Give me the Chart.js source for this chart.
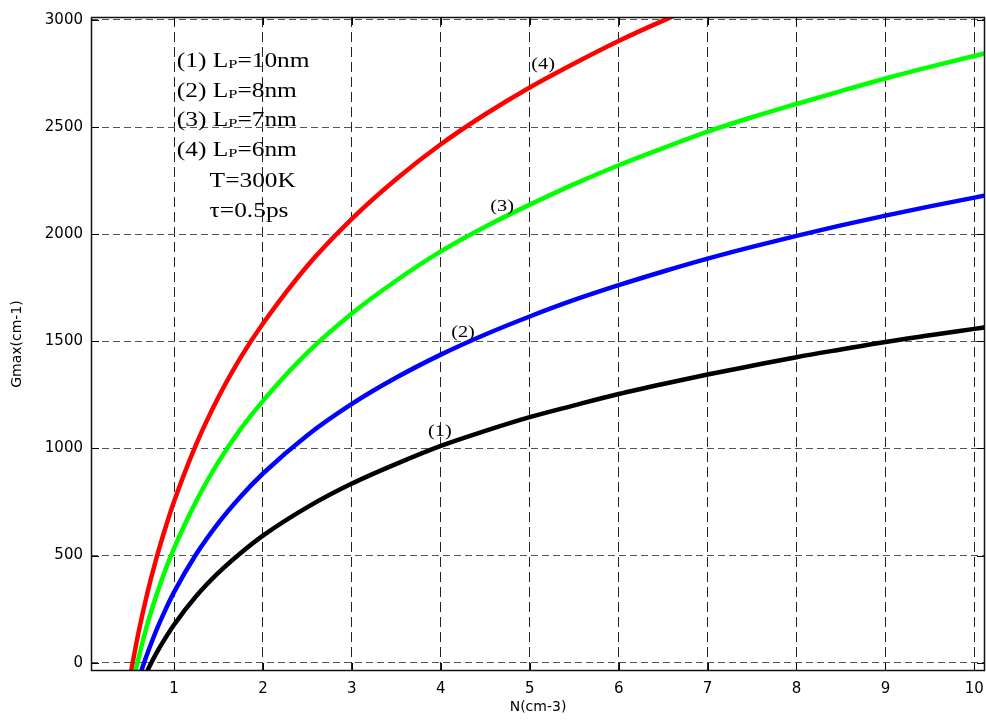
<!DOCTYPE html>
<html>
<head>
<meta charset="utf-8">
<script src="https://cdn.jsdelivr.net/npm/chart.js@4.4.0/dist/chart.umd.min.js"></script>
<style>
  html, body { margin: 0; padding: 0; background: #fff; }
  canvas { display: block; }
</style>
</head>
<body>
<canvas id="gainChart" width="986" height="720"></canvas>
<script>
// N (x) and Gmax (y), one pair per curve
const nLp10 = [0.70, 0.745, 0.8, 0.9, 1.0, 1.25, 1.5, 1.75, 2.0, 2.5, 3.0, 3.5, 4.0, 4.5, 5.0, 5.5, 6.0, 6.5, 7.0, 7.5, 8.0, 8.5, 9.0, 9.5, 10.0, 10.2];
const gLp10 = [-37, 0, 43, 113, 177, 311, 420, 512, 593, 726, 836, 928, 1012, 1082, 1146, 1201, 1254, 1301, 1345, 1386, 1426, 1462, 1497, 1528, 1558, 1570];

const nLp8 = [0.63, 0.663, 0.7, 0.8, 0.9, 1.0, 1.25, 1.5, 1.75, 2.0, 2.5, 3.0, 3.5, 4.0, 4.5, 5.0, 5.5, 6.0, 6.5, 7.0, 7.5, 8.0, 8.5, 9.0, 9.5, 10.0, 10.2];
const gLp8 = [-41, 0, 43, 150, 244, 329, 507, 653, 776, 883, 1062, 1208, 1331, 1438, 1532, 1616, 1693, 1762, 1826, 1886, 1941, 1992, 2041, 2087, 2130, 2171, 2187];

const nLp7 = [0.56, 0.588, 0.7, 0.8, 0.9, 1.0, 1.25, 1.5, 1.75, 2.0, 2.5, 3.0, 3.5, 4.0, 4.5, 5.0, 5.5, 6.0, 6.5, 7.0, 7.5, 8.0, 8.5, 9.0, 9.5, 10.0, 10.2];
const gLp7 = [-49, 0, 180, 312, 430, 533, 754, 937, 1091, 1222, 1447, 1630, 1784, 1920, 2035, 2138, 2234, 2322, 2402, 2479, 2546, 2608, 2668, 2727, 2781, 2832, 2852];

const nLp6 = [0.50, 0.535, 0.6, 0.7, 0.8, 0.9, 1.0, 1.25, 1.5, 1.75, 2.0, 2.5, 3.0, 3.5, 4.0, 4.5, 5.0, 5.5, 6.0, 6.5, 7.0];
const gLp6 = [-81, 0, 140, 325, 485, 625, 752, 1020, 1240, 1425, 1583, 1853, 2072, 2258, 2420, 2560, 2685, 2797, 2902, 2997, 3086];

const xTicks = [1, 2, 3, 4, 5, 6, 7, 8, 9, 10];
const yTicks = [0, 500, 1000, 1500, 2000, 2500, 3000];

const curveTags = ['(1)', '(2)', '(3)', '(4)'];
const lpValues = ['10nm', '8nm', '7nm', '6nm'];
const extraNotes = ['T=300K', 'τ=0.5ps'];

const toPoints = (xs, ys) => xs.map((x, i) => ({ x: x, y: ys[i] }));

const SERIF = '"Liberation Serif", "Times New Roman", serif';
const SANS = '"DejaVu Sans", sans-serif';
const STRETCH = 1.27; // the serif text in the figure is drawn wide

function wideText(ctx, text, x, y, size) {
    ctx.save();
    ctx.translate(x, y);
    ctx.scale(STRETCH, 1);
    ctx.font = size + 'px ' + SERIF;
    ctx.fillText(text, 0, 0);
    const w = ctx.measureText(text).width * STRETCH;
    ctx.restore();
    return w;
}

// box round the plot, inward tick marks, and the text notes
const framePlugin = {
    id: 'frame',
    afterDraw(chart) {
        const { ctx, chartArea: a, scales: { x, y } } = chart;
        ctx.save();
        ctx.strokeStyle = '#000';
        ctx.lineWidth = 1;
        ctx.beginPath();
        xTicks.forEach(v => {
            const px = Math.round(x.getPixelForValue(v)) + 0.5;
            ctx.moveTo(px, a.bottom); ctx.lineTo(px, a.bottom - 8);
            ctx.moveTo(px, a.top); ctx.lineTo(px, a.top + 8);
        });
        yTicks.forEach(v => {
            const py = Math.round(y.getPixelForValue(v)) + 0.5;
            ctx.moveTo(a.left, py); ctx.lineTo(a.left + 8, py);
            ctx.moveTo(a.right, py); ctx.lineTo(a.right - 8, py);
        });
        ctx.stroke();
        ctx.lineWidth = 1.5;
        ctx.strokeStyle = '#111';
        ctx.strokeRect(a.left + 0.5, a.top + 0.5, a.width - 1, a.height - 1);

        // legend block, top left
        ctx.fillStyle = '#000';
        ctx.textBaseline = 'alphabetic';
        const left = x.getPixelForValue(1.03);
        const row0 = y.getPixelForValue(2813) + 7;
        const rowGap = 29.5;
        curveTags.forEach((tag, i) => {
            const base = row0 + i * rowGap;
            let cx = left;
            cx += wideText(ctx, tag + ' L', cx, base, 20);
            cx += wideText(ctx, 'P', cx, base + 1, 13);
            wideText(ctx, '=' + lpValues[i], cx, base, 20);
        });
        extraNotes.forEach((t, i) => {
            wideText(ctx, t, x.getPixelForValue(1.4), row0 + (4 + i) * rowGap + 2, 20);
        });

        // tags next to each curve
        const tagPos = [[3.99, 1076], [4.25, 1538], [4.69, 2128], [5.15, 2790]];
        ctx.textBaseline = 'middle';
        curveTags.forEach((tag, i) => {
            ctx.save();
            ctx.font = '16px ' + SERIF;
            const w = ctx.measureText(tag).width * STRETCH;
            ctx.restore();
            wideText(ctx, tag, x.getPixelForValue(tagPos[i][0]) - w / 2, y.getPixelForValue(tagPos[i][1]), 16);
        });
        ctx.restore();
    }
};

const lineStyle = color => ({
    borderColor: color,
    backgroundColor: color,
    borderWidth: 4.5,
    pointRadius: 0,
    cubicInterpolationMode: 'monotone',
    fill: false,
    clip: 0
});

new Chart(document.getElementById('gainChart'), {
    type: 'line',
    data: {
        datasets: [
            { label: 'Lp=10nm', data: toPoints(nLp10, gLp10), ...lineStyle('#000000') },
            { label: 'Lp=8nm', data: toPoints(nLp8, gLp8), ...lineStyle('#0000ff') },
            { label: 'Lp=7nm', data: toPoints(nLp7, gLp7), ...lineStyle('#00ff00') },
            { label: 'Lp=6nm', data: toPoints(nLp6, gLp6), ...lineStyle('#ff0000') }
        ]
    },
    options: {
        responsive: false,
        animation: false,
        layout: { padding: { top: 17, right: 1, left: 0, bottom: 0 } },
        plugins: {
            legend: { display: false },
            tooltip: { enabled: false }
        },
        scales: {
            x: {
                type: 'linear',
                min: 0.066,
                max: 10.12,
                afterBuildTicks: s => { s.ticks = xTicks.map(v => ({ value: v })); },
                afterFit: s => { s.height = 49; s.paddingLeft = 0; s.paddingRight = 0; },
                grid: { color: '#222', lineWidth: 1, drawTicks: false },
                border: { display: false, dash: [10, 5] },
                ticks: {
                    color: '#000',
                    font: { family: SANS, size: 15 },
                    padding: 9,
                    maxRotation: 0,
                    autoSkip: false,
                    callback: v => String(v)
                },
                title: {
                    display: true,
                    text: 'N(cm-3)',
                    color: '#000',
                    font: { family: SANS, size: 14 },
                    padding: { top: 0, bottom: 4 }
                }
            },
            y: {
                min: -39,
                max: 3014,
                afterBuildTicks: s => { s.ticks = yTicks.map(v => ({ value: v })); },
                afterFit: s => { s.width = 91; s.paddingTop = 0; s.paddingBottom = 0; },
                grid: { color: '#555', lineWidth: 1, drawTicks: false },
                border: { display: false, dash: [7, 4] },
                ticks: {
                    color: '#000',
                    font: { family: SANS, size: 15 },
                    padding: 8,
                    callback: v => String(v)
                },
                title: {
                    display: true,
                    text: 'Gmax(cm-1)',
                    color: '#000',
                    font: { family: SANS, size: 14 },
                    padding: { top: 9, bottom: 0 }
                }
            }
        }
    },
    plugins: [framePlugin]
});
</script>
</body>
</html>
